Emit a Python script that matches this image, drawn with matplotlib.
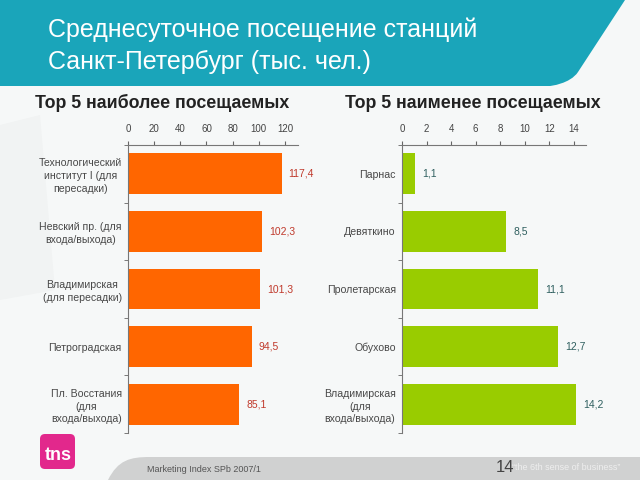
import matplotlib
matplotlib.use("Agg")
import matplotlib.pyplot as plt
from matplotlib.patches import Polygon, FancyBboxPatch
from matplotlib.path import Path
import matplotlib.patches as mpatches

plt.rcParams['font.family'] = ['Liberation Sans', 'DejaVu Sans']

# data
left_names = ["Технологический\nинститут I (для\nпересадки)",
              "Невский пр. (для\nвхода/выхода)",
              "Владимирская\n(для пересадки)",
              "Петроградская",
              "Пл. Восстания\n(для\nвхода/выхода)"]
left_vals = [117.4, 102.3, 101.3, 94.5, 85.1]
left_ticks = [0, 20, 40, 60, 80, 100, 120]

right_names = ["Парнас", "Девяткино", "Пролетарская", "Обухово",
               "Владимирская\n(для\nвхода/выхода)"]
right_vals = [1.1, 8.5, 11.1, 12.7, 14.2]
right_ticks = [0, 2, 4, 6, 8, 10, 12, 14]

fig = plt.figure(figsize=(6.4, 4.8), dpi=100)
fig.patch.set_facecolor("#f6f8f8")

# background layer in pixel coords
bg = fig.add_axes([0, 0, 1, 1], zorder=-1)
bg.set_xlim(0, 640)
bg.set_ylim(480, 0)
bg.axis("off")

# faint watermark shape
bg.add_patch(Polygon([(0, 125), (40, 115), (55, 290), (0, 300)], closed=True,
                     color="#f1f3f3", lw=0))

# teal banner with curved right corner
verts = [(0, 0), (625, 0), (578, 72), (570, 84), (550, 86), (550, 86), (0, 86), (0, 0)]
codes = [Path.MOVETO, Path.LINETO, Path.LINETO, Path.CURVE4, Path.CURVE4, Path.CURVE4,
         Path.LINETO, Path.CLOSEPOLY]
bg.add_patch(mpatches.PathPatch(Path(verts, codes), facecolor="#1aa5ba", lw=0))

# grey footer band
fverts = [(108, 480), (118, 460), (130, 457), (150, 457), (640, 457), (640, 480), (108, 480)]
fcodes = [Path.MOVETO, Path.CURVE4, Path.CURVE4, Path.CURVE4, Path.LINETO, Path.LINETO,
          Path.CLOSEPOLY]
bg.add_patch(mpatches.PathPatch(Path(fverts, fcodes), facecolor="#d0d1d1", lw=0))

# tns logo
bg.add_patch(FancyBboxPatch((40, 434), 35, 35, boxstyle="round,pad=0,rounding_size=5",
                            facecolor="#e2288c", lw=0))
bg.text(58, 455, "tns", color="white", fontsize=13, fontweight="bold",
        ha="center", va="center")

# titles
fig.text(48 / 640, 1 - 30 / 480, "Среднесуточное посещение станций", color="white",
         fontsize=18, va="center", ha="left")
fig.text(48 / 640, 1 - 62 / 480, "Санкт-Петербург (тыс. чел.)", color="white",
         fontsize=18, va="center", ha="left")
fig.text(35 / 640, 1 - 103 / 480, "Top 5 наиболее посещаемых", color="#222222",
         fontsize=12.8, fontweight="bold", va="center", ha="left")
fig.text(345 / 640, 1 - 103 / 480, "Top 5 наименее посещаемых", color="#222222",
         fontsize=12.8, fontweight="bold", va="center", ha="left")

# footer texts
fig.text(147 / 640, 1 - 469 / 480, "Marketing Index SPb 2007/1", color="#555555",
         fontsize=6.5, va="center")
fig.text(512 / 640, 1 - 467 / 480, "“the 6th sense of business”", color="#eeeeee",
         fontsize=6.5, va="center")
fig.text(496 / 640, 1 - 468 / 480, "14", color="#444444", fontsize=12, va="center")


def draw(ax, names, vals, ticks, xmax, color, lblcolor):
    y = list(range(len(vals)))
    bars = ax.barh(y, vals, height=0.71, color=color, zorder=2)
    ax.set_xlim(0, xmax)
    ax.set_ylim(len(vals) - 0.5, -0.5)
    ax.set_facecolor("none")
    ax.xaxis.tick_top()
    ax.set_xticks(ticks)
    ax.set_xticklabels([str(t) for t in ticks])
    ax.tick_params(axis="x", labelsize=7, colors="#666666", length=3, pad=5,
                   labelcolor="#444444")
    ax.set_yticks(y)
    ax.set_yticklabels(names, fontsize=7.6, color="#484848", multialignment="center",
                       linespacing=1.35)
    ax.tick_params(axis="y", length=0, pad=4.5)
    ax.set_yticks([i - 0.5 for i in range(len(vals) + 1)], minor=True)
    ax.tick_params(axis="y", which="minor", length=3, color="#666666")
    for s in ["right", "bottom"]:
        ax.spines[s].set_visible(False)
    for s in ["top", "left"]:
        ax.spines[s].set_color("#777777")
        ax.spines[s].set_linewidth(0.8)
    labels = [f"{v:.1f}".replace(".", ",") for v in vals]
    ax.bar_label(bars, labels=labels, padding=5, fontsize=7.5, color=lblcolor)


ax1 = fig.add_axes([128 / 640, 1 - 433 / 480, 170 / 640, 288 / 480])
draw(ax1, left_names, left_vals, left_ticks, 130, "#ff6600", "#c0392b")

ax2 = fig.add_axes([402 / 640, 1 - 433 / 480, 184 / 640, 288 / 480])
draw(ax2, right_names, right_vals, right_ticks, 15, "#99cc00", "#2f5f5f")

fig.savefig("out.png", dpi=100, facecolor=fig.get_facecolor())
